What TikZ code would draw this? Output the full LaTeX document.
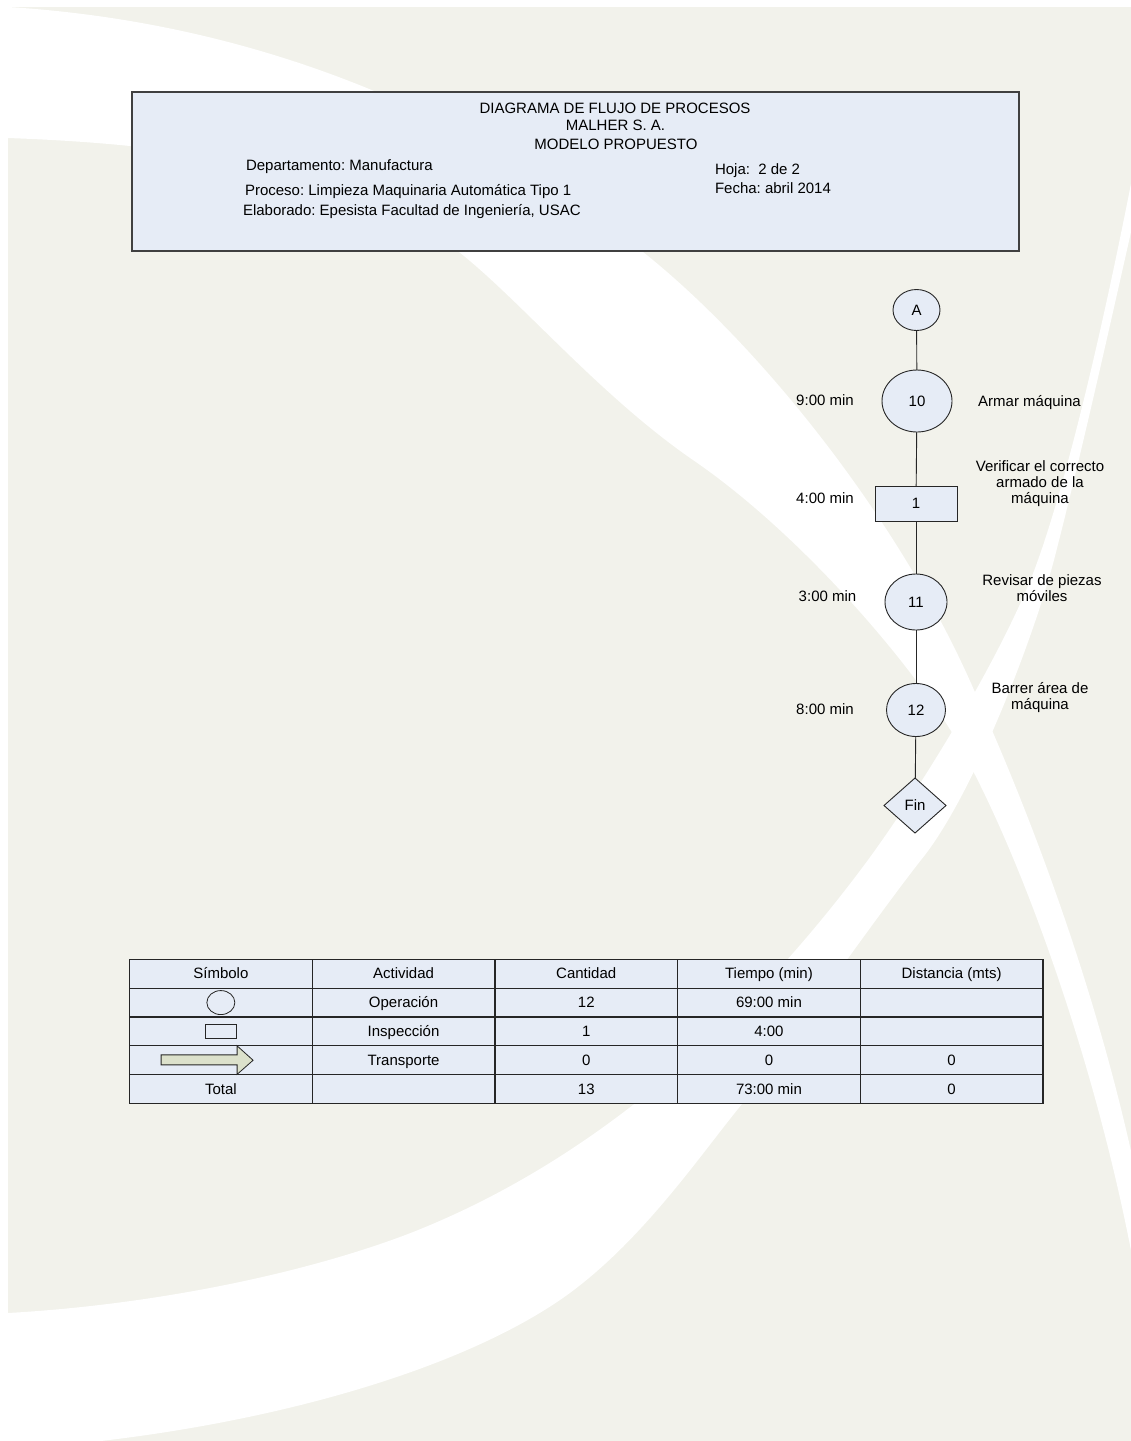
\documentclass[tikz,border=0pt]{standalone}
\usepackage{fontspec}
\setmainfont{Liberation Sans}
\usetikzlibrary{shapes.geometric}
\definecolor{pagebeige}{RGB}{242,242,235}
\definecolor{paleblue}{RGB}{230,236,246}
\definecolor{olivefill}{RGB}{220,225,203}
\newcommand\tcell[3]{\node[cell] (t#1#2) at ({129.5+182.7*(#2-0.5)},{959.3+28.84*(#1-0.5)}) {#3};}
\frenchspacing
\begin{document}
\begin{tikzpicture}[x=1pt,y=-1pt,
  every node/.style={font=\frenchspacing\fontsize{15}{16}\selectfont, inner sep=0pt, outer sep=0pt},
  txt/.style={text height=11pt, text depth=1pt},
  lbl/.style={align=center, text height=11pt, text depth=3pt},
  flow/.style={draw=black!85, line width=0.9pt, fill=paleblue, text height=11pt, text depth=1pt},
  oper/.style={flow, ellipse},
  insp/.style={flow, rectangle},
  finshape/.style={flow, diamond},
  conn/.style={draw=black!85, line width=0.9pt},
  cell/.style={fill=paleblue, minimum width=182.7pt, minimum height=28.84pt, text height=11pt, text depth=1pt},
  tline/.style={draw=black!85, line width=1.3pt},
  bigbox/.style={draw=black!75, line width=1.3pt, fill=paleblue},
  symb/.style={draw=black!85, line width=0.8pt}
]
\useasboundingbox (0,0) rectangle (1131,1441);
% background
\fill[white] (0,0) rectangle (1131,1441);
\fill[pagebeige] (8,7) rectangle (1131,1441);
% swoosh 1 (top-left to bottom-right)
\fill[white] (8,7) .. controls (250,22) and (470,110) .. (643,252)
  .. controls (760,345) and (900,520) .. (974,690)
  .. controls (1020,790) and (1105,1000) .. (1145,1220)
  -- (1160,1220) -- (1160,1300) -- (1140,1300)
  .. controls (1105,1090) and (1030,880) .. (971,767)
  .. controls (935,690) and (810,540) .. (693,460)
  .. controls (600,396) and (520,300) .. (459,252)
  .. controls (330,170) and (200,145) .. (8,138)
  -- (0,138) -- (0,7) -- cycle;
% swoosh 2 (bottom-left to top-right)
\fill[white] (8,1313) .. controls (150,1305) and (300,1275) .. (408,1234)
  .. controls (560,1175) and (720,1060) .. (868,860)
  .. controls (930,775) and (1010,640) .. (1038,560)
  .. controls (1070,470) and (1110,300) .. (1145,110)
  -- (1160,110) -- (1160,170) -- (1145,170)
  .. controls (1120,280) and (1085,440) .. (1054,560)
  .. controls (1030,650) and (970,800) .. (921,860)
  .. controls (880,912) and (790,1040) .. (742,1104)
  .. controls (700,1155) and (640,1245) .. (560,1300)
  .. controls (450,1375) and (250,1430) .. (40,1447)
  -- (0,1447) -- (0,1313) -- cycle;

% header
\node[bigbox, anchor=north west, minimum width=887pt, minimum height=159pt] (header) at (132,92) {};
\node[txt] (h1) at (615,108) {DIAGRAMA DE FLUJO DE PROCESOS};
\node[txt] (h2) at (615.5,125) {MALHER S. A.};
\node[txt] (h3) at (616,144) {MODELO PROPUESTO};
\node[txt, anchor=west] (h4) at (246,165) {Departamento: Manufactura};
\node[txt, anchor=west] (h5) at (245,190) {Proceso: Limpieza Maquinaria Automática Tipo 1};
\node[txt, anchor=west] (h6) at (243,210) {Elaborado: Epesista Facultad de Ingeniería, USAC};
\node[txt, anchor=west] (h7) at (715,169) {Hoja:\ \ 2 de 2};
\node[txt, anchor=west] (h8) at (715,188) {Fecha: abril 2014};

% flow
\node[oper, minimum width=47pt, minimum height=41pt] (A) at (916.5,310) {A};
\node[oper, minimum width=70pt, minimum height=62pt] (n10) at (917,401) {10};
\node[insp, minimum width=82pt, minimum height=35pt] (i1) at (916,503.5) {1};
\node[oper, minimum width=62pt, minimum height=56pt] (n11) at (916,602) {11};
\node[oper, minimum width=59pt, minimum height=53pt] (n12) at (916,710) {12};
\node[finshape, minimum width=62pt, minimum height=55pt] (fin) at (915,805.5) {Fin};

\draw[conn] (A) -- (n10);
\draw[conn] (n10) -- (i1);
\draw[conn] (i1) -- (n11);
\draw[conn] (n11) -- (n12);
\draw[conn] (n12) -- (fin);

\node[txt] (tm10) at (825,400) {9:00 min};
\node[txt] (ds10) at (1029.5,401) {Armar máquina};
\node[txt] (tm1) at (825,498) {4:00 min};
\node[lbl] (ds1) at (1040,499) {Verificar el correcto\\armado de la\\máquina};
\node[txt] (tm11) at (827.5,596) {3:00 min};
\node[lbl] (ds11) at (1042,597.5) {Revisar de piezas\\móviles};
\node[txt] (tm12) at (825,709) {8:00 min};
\node[lbl] (ds12) at (1040,705) {Barrer área de\\máquina};

% table
\fill[paleblue] (129.5,959.3) rectangle (1043,1103.5);
\tcell{1}{1}{Símbolo}
\tcell{1}{2}{Actividad}
\tcell{1}{3}{Cantidad}
\tcell{1}{4}{Tiempo (min)}
\tcell{1}{5}{Distancia (mts)}
\tcell{2}{1}{}
\tcell{2}{2}{Operación}
\tcell{2}{3}{12}
\tcell{2}{4}{69:00 min}
\tcell{2}{5}{}
\tcell{3}{1}{}
\tcell{3}{2}{Inspección}
\tcell{3}{3}{1}
\tcell{3}{4}{4:00}
\tcell{3}{5}{}
\tcell{4}{1}{}
\tcell{4}{2}{Transporte}
\tcell{4}{3}{0}
\tcell{4}{4}{0}
\tcell{4}{5}{0}
\tcell{5}{1}{Total}
\tcell{5}{2}{}
\tcell{5}{3}{13}
\tcell{5}{4}{73:00 min}
\tcell{5}{5}{0}
\draw[tline] (t11.north west) rectangle (t55.south east);
\foreach \c in {1,...,4} {\draw[tline] (t1\c.north east) -- (t5\c.south east);}
\foreach \r in {1,...,4} {\draw[tline] (t\r1.south west) -- (t\r5.south east);}

\node[symb, ellipse, minimum width=28pt, minimum height=24pt] (symop) at (t21) {};
\node[symb, rectangle, minimum width=31pt, minimum height=13.5pt] (syminsp) at (t31) {};
\begin{scope}[shift={(t41.center)}]
\draw[symb, fill=olivefill] (-59.75,-5.4) -- (16.25,-5.4) -- (16.25,-14.4) -- (32.25,0) -- (16.25,14.1) -- (16.25,4.6) -- (-59.75,4.6) -- cycle;
\end{scope}
\end{tikzpicture}
\end{document}
